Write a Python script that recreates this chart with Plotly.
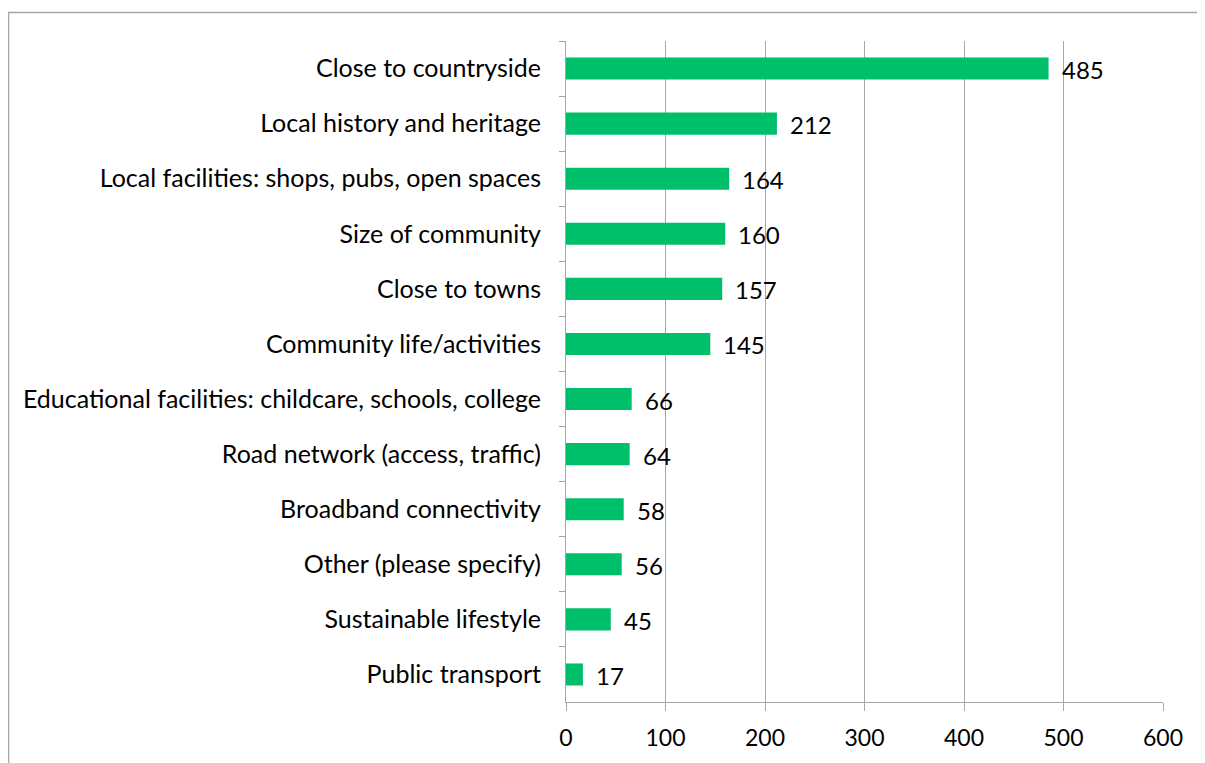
import plotly.graph_objects as go

categories = [
    "Close to countryside",
    "Local history and heritage",
    "Local facilities: shops, pubs, open spaces",
    "Size of community",
    "Close to towns",
    "Community life/activities",
    "Educational facilities: childcare, schools, college",
    "Road network (access, traffic)",
    "Broadband connectivity",
    "Other (please specify)",
    "Sustainable lifestyle",
    "Public transport",
]
values = [485, 212, 164, 160, 157, 145, 66, 64, 58, 56, 45, 17]
x_ticks = [0, 100, 200, 300, 400, 500, 600]

W, H = 1205, 763
L, R, T, B = 558, 50, 33, 69
FONT = "Lato, Carlito, Calibri, sans-serif"

fig = go.Figure(go.Bar(
    y=categories, x=values, orientation="h",
    marker=dict(color="#00BF6B", line=dict(width=0)),
    cliponaxis=False, hoverinfo="x+y",
))

for c, v in zip(categories, values):
    fig.add_annotation(x=v, y=c, text=str(v), showarrow=False,
                       xanchor="left", yanchor="middle", xshift=11, yshift=-1,
                       font=dict(family=FONT, size=24, color="black"))

fig.update_layout(
    width=W, height=H,
    margin=dict(l=L, r=R, t=T, b=B, pad=0),
    paper_bgcolor="white", plot_bgcolor="white",
    font=dict(family=FONT, size=24, color="black"),
    showlegend=False, bargap=0.6,
    xaxis=dict(range=[0, 600], tickvals=x_ticks, ticktext=[str(t) for t in x_ticks],
               showgrid=True, gridcolor="#A6A6A6", gridwidth=1,
               showline=True, linecolor="#A6A6A6", linewidth=1,
               ticks="outside", ticklen=8, tickcolor="#A6A6A6",
               zeroline=False, tickfont=dict(size=23), ticklabelstandoff=7),
    yaxis=dict(autorange="reversed", showgrid=False,
               showline=True, linecolor="#A6A6A6", linewidth=1,
               ticks="outside", ticklen=6, tickcolor="#A6A6A6",
               tickson="boundaries", ticklabelstandoff=19, tickfont=dict(size=25)),
)

pw, ph = W - L - R, H - T - B
def px(p):
    return (p - L) / pw
def py(p):
    return (H - B - p) / ph

fig.add_shape(type="rect", xref="paper", yref="paper",
              x0=px(0.5), x1=px(1240), y0=py(4.5), y1=py(800),
              line=dict(color="#A6A6A6", width=1.5), fillcolor="rgba(0,0,0,0)", layer="below")

fig.write_html("out.html")
